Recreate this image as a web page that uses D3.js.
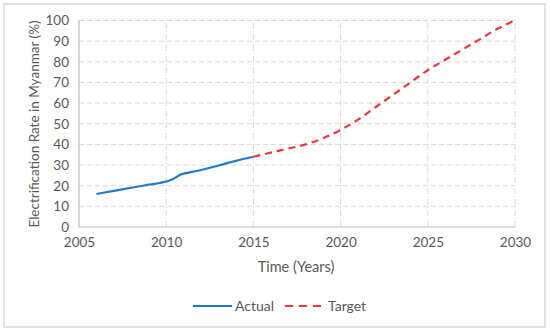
<!DOCTYPE html>
<html lang="en">
<head>
    <meta charset="UTF-8">
    <title>Electrification Rate in Myanmar</title>
    <style>
        body { margin: 0; background: #fff; font-family: 'Lato', sans-serif; }
        svg text { fill: #595959; font-family: 'Lato', sans-serif; }
    </style>
    <script src="https://d3js.org/d3.v7.min.js"></script>
</head>
<body>
<div id="chart"></div>
<script>
    // Data
    var actualYears = [2006, 2007, 2008, 2009, 2010, 2010.4, 2010.8, 2011.5, 2012, 2013, 2014, 2015];
    var actualRate  = [16, 17.5, 19, 20.5, 22, 23.2, 25.3, 26.7, 27.6, 29.8, 32, 34];
    var targetYears = [2015, 2016, 2017, 2018, 2019, 2020, 2021, 2022, 2023, 2024, 2025, 2026, 2027, 2028, 2029, 2030];
    var targetRate  = [34, 36, 38, 40, 43, 47, 52, 58, 64, 70, 76, 81, 86, 91, 96, 100];
    var xTicks = [2005, 2010, 2015, 2020, 2025, 2030];
    var yTicks = [0, 10, 20, 30, 40, 50, 60, 70, 80, 90, 100];

    var width = 550, height = 332;
    var svg = d3.select("#chart").append("svg")
        .attr("width", width)
        .attr("height", height);

    // outer frame
    svg.append("rect")
        .attr("x", 4).attr("y", 4)
        .attr("width", 541).attr("height", 323)
        .attr("fill", "#fff")
        .attr("stroke", "#d9d9d9")
        .attr("stroke-width", 1.5);

    var x = d3.scaleLinear().domain([2005, 2030]).range([79, 515]);
    var y = d3.scaleLinear().domain([0, 100]).range([227, 20.5]);

    // horizontal gridlines (dashed)
    svg.append("g")
        .selectAll("line")
        .data(yTicks.filter(function(d) { return d > 0; }))
        .enter().append("line")
        .attr("x1", x(2005)).attr("x2", x(2030))
        .attr("y1", function(d) { return y(d); })
        .attr("y2", function(d) { return y(d); })
        .attr("stroke", "#d9d9d9")
        .attr("stroke-width", 1)
        .attr("stroke-dasharray", "5,3");

    // vertical gridlines (dash-dot)
    svg.append("g")
        .selectAll("line")
        .data(xTicks.filter(function(d) { return d > 2005; }))
        .enter().append("line")
        .attr("x1", function(d) { return x(d); })
        .attr("x2", function(d) { return x(d); })
        .attr("y1", y(0)).attr("y2", y(100))
        .attr("stroke", "#d9d9d9")
        .attr("stroke-width", 1)
        .attr("stroke-dasharray", "6,2,1,2");

    // axes
    var xAxis = svg.append("g")
        .attr("transform", "translate(0," + y(0) + ")")
        .call(d3.axisBottom(x).tickValues(xTicks).tickFormat(d3.format("d")).tickSize(0).tickPadding(10));
    var yAxis = svg.append("g")
        .attr("transform", "translate(" + x(2005) + ",0)")
        .call(d3.axisLeft(y).tickValues(yTicks).tickSize(0).tickPadding(10));

    [xAxis, yAxis].forEach(function(a) {
        a.select(".domain").attr("stroke", "#bfbfbf").attr("stroke-width", 1.2);
        a.selectAll("text").style("font-size", "13.5px").style("font-family", "'Lato', sans-serif").attr("fill", "#595959");
    });
    yAxis.select(".domain").attr("d", "M0," + y(100) + "V" + y(0));
    xAxis.select(".domain").attr("d", "M" + x(2005) + ",0H" + x(2030));

    // lines
    var line = d3.line()
        .x(function(d) { return x(d[0]); })
        .y(function(d) { return y(d[1]); })
        .curve(d3.curveMonotoneX);

    svg.append("path")
        .datum(targetYears.map(function(d, i) { return [d, targetRate[i]]; }))
        .attr("d", line)
        .attr("fill", "none")
        .attr("stroke", "#e8383d")
        .attr("stroke-width", 2.2)
        .attr("stroke-dasharray", "7,5");

    svg.append("path")
        .datum(actualYears.map(function(d, i) { return [d, actualRate[i]]; }))
        .attr("d", line)
        .attr("fill", "none")
        .attr("stroke", "#1f7cc4")
        .attr("stroke-width", 2.2);

    // axis titles
    svg.append("text")
        .attr("x", 296).attr("y", 272)
        .attr("text-anchor", "middle")
        .style("font-size", "14.5px")
        .text("Time (Years)");

    svg.append("text")
        .attr("transform", "translate(39,124) rotate(-90)")
        .attr("text-anchor", "middle")
        .style("font-size", "13.5px")
        .text("Electrification Rate in Myanmar (%)");

    // legend
    var legend = svg.append("g").attr("transform", "translate(0,306)");
    legend.append("line")
        .attr("x1", 193).attr("x2", 232).attr("y1", 0).attr("y2", 0)
        .attr("stroke", "#1f7cc4").attr("stroke-width", 2.2);
    legend.append("text")
        .attr("x", 235).attr("y", 5)
        .style("font-size", "14px")
        .text("Actual");
    legend.append("line")
        .attr("x1", 285).attr("x2", 322).attr("y1", 0).attr("y2", 0)
        .attr("stroke", "#e8383d").attr("stroke-width", 2.2)
        .attr("stroke-dasharray", "8,6");
    legend.append("text")
        .attr("x", 328).attr("y", 5)
        .style("font-size", "14px")
        .text("Target");
</script>
</body>
</html>
